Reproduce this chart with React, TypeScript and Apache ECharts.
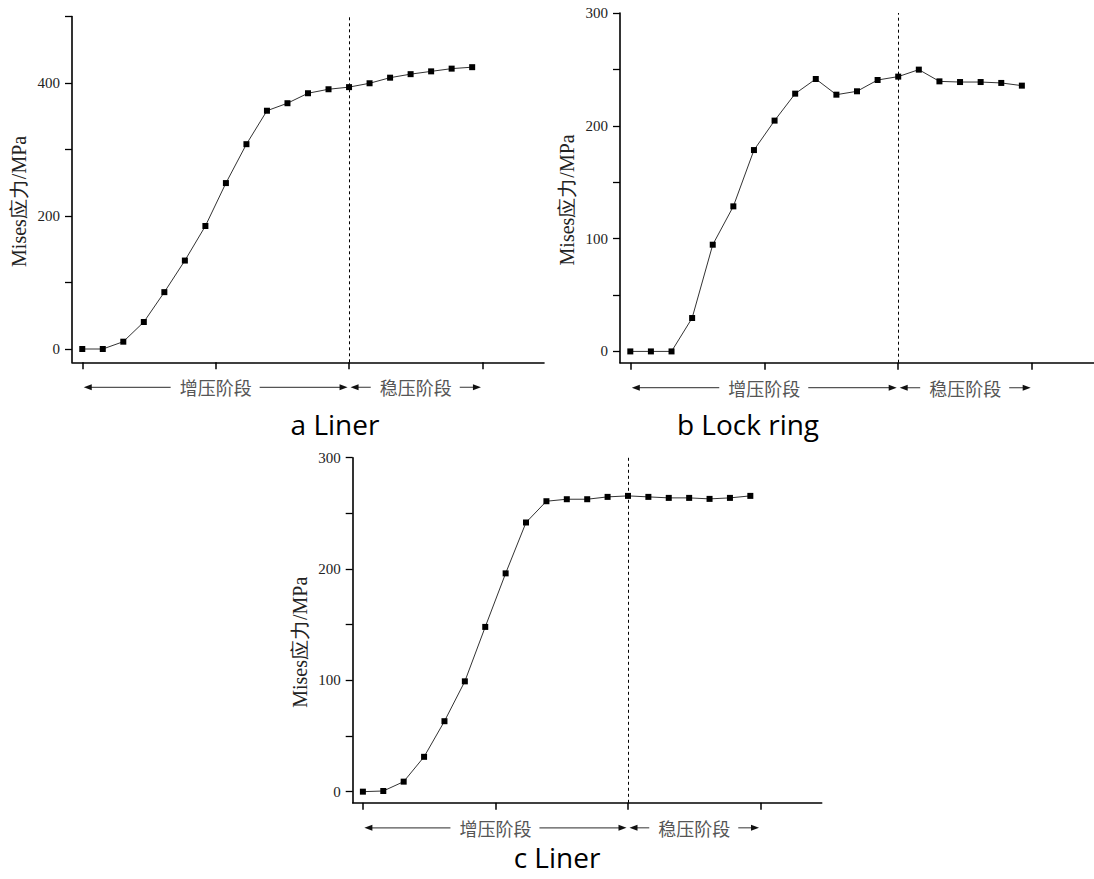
import React, { useEffect, useRef } from "react";
import * as echarts from "echarts";

// ---- data ----
const stepIndex = [0, 1, 2, 3, 4, 5, 6, 7, 8, 9, 10, 11, 12, 13, 14, 15, 16, 17, 18, 19];
const linerA = [0, 0, 11, 40.6, 85.5, 133, 185, 249.5, 308, 358.3, 369.6, 384.6, 390.6, 393.8, 399.6, 408, 413.3, 417.5, 421.6, 423.8];
const lockRingB = [0, 0, 0, 29.6, 94.6, 128.6, 178.5, 204.6, 228.5, 241.5, 227.6, 230.6, 240.6, 243.6, 249.8, 239.4, 238.8, 238.8, 238, 235.6];
const linerC = [0, 0.6, 9, 31.3, 63.3, 99.1, 148, 196.1, 241.8, 260.9, 262.7, 262.7, 264.8, 265.7, 264.8, 263.9, 263.9, 263, 263.9, 265.7];

const stageBoundary = 13;
const stageStart = 0;
const stageEnd = 19.5;
const xTickValues = [0, 6.5, 13, 19.5];
const yTicksA = [0, 100, 200, 300, 400, 500];
const yLabelsA = [0, 200, 400];
const yTicksBC = [0, 50, 100, 150, 200, 250, 300];
const yLabelsBC = [0, 100, 200, 300];
const yAxisName = "Mises应力/MPa";
const stageLabels = ["增压阶段", "稳压阶段"];
const captions = ["a Liner", "b Lock ring", "c Liner"];

const SERIF = "'Liberation Serif','Times New Roman',serif";
const CJK = "'Noto Sans CJK SC',sans-serif";
const CAPTION_FONT = "'Open Sans',sans-serif";

const panels = [
  { data: linerA, yMin: -20, yMax: 500, ticks: yTicksA, labels: yLabelsA,
    grid: { left: 72, top: 16.5, width: 472, height: 345.8 }, caption: captions[0], capPos: [335, 424] },
  { data: lockRingB, yMin: -10, yMax: 300, ticks: yTicksBC, labels: yLabelsBC,
    grid: { left: 620, top: 13, width: 479, height: 349.7 }, caption: captions[1], capPos: [748, 424] },
  { data: linerC, yMin: -10, yMax: 300, ticks: yTicksBC, labels: yLabelsBC,
    grid: { left: 352.7, top: 457.7, width: 469, height: 345.1 }, caption: captions[2], capPos: [557, 857] },
];

export default function App() {
  const ref = useRef<HTMLDivElement>(null);
  useEffect(() => {
    if (!ref.current) return;
    const chart = echarts.init(ref.current, undefined, { renderer: "svg" });
    const option: any = {
      animation: false,
      backgroundColor: "#fff",
      grid: panels.map((p) => ({ ...p.grid, containLabel: false })),
      xAxis: panels.map((p, i) => ({
        type: "value",
        gridIndex: i,
        min: -0.5,
        max: 22.5,
        axisLine: { show: true, onZero: false, lineStyle: { color: "#000", width: 1.6 } },
        axisTick: { show: true, customValues: xTickValues, length: 7, lineStyle: { color: "#000", width: 1.5 } },
        axisLabel: { show: false },
        splitLine: { show: false },
      })),
      yAxis: panels.map((p, i) => ({
        type: "value",
        gridIndex: i,
        min: p.yMin,
        max: p.yMax,
        axisLine: { show: true, onZero: false, lineStyle: { color: "#000", width: 1.6 } },
        axisTick: { show: true, customValues: p.ticks, length: 7, lineStyle: { color: "#000", width: 1.3 } },
        axisLabel: { show: true, customValues: p.labels, margin: 12, color: "#222", fontFamily: SERIF, fontSize: 15 },
        splitLine: { show: false },
      })),
      series: panels.map((p, i) => ({
        type: "line",
        xAxisIndex: i,
        yAxisIndex: i,
        data: stepIndex.map((x, k) => [x, p.data[k]]),
        symbol: "rect",
        symbolSize: 6,
        lineStyle: { color: "#333", width: 1 },
        itemStyle: { color: "#000" },
        markLine: {
          silent: true,
          symbol: ["none", "none"],
          label: { show: false },
          lineStyle: { color: "#000", width: 1, type: [3, 3] },
          data: [{ xAxis: stageBoundary }],
        },
      })),
    };
    chart.setOption(option);

    const graphics: any[] = [];
    panels.forEach((p, i) => {
      const px = (v: number) => chart.convertToPixel({ xAxisIndex: i } as any, v) as number;
      const yAxisPix = chart.convertToPixel({ yAxisIndex: i } as any, p.yMin) as number;
      const yTopPix = chart.convertToPixel({ yAxisIndex: i } as any, p.yMax) as number;
      const xLeftPix = px(-0.5);
      // y axis name
      graphics.push({
        type: "text",
        x: xLeftPix - 53,
        y: (yAxisPix + yTopPix) / 2 + 12,
        rotation: Math.PI / 2,
        style: { text: yAxisName, font: `20px ${SERIF}`, fill: "#222", align: "center", verticalAlign: "middle" },
      });
      // stage annotations
      const ay = yAxisPix + 25;
      const segs = [
        [stageStart, stageBoundary, stageLabels[0]],
        [stageBoundary, stageEnd, stageLabels[1]],
      ] as [number, number, string][];
      segs.forEach(([a, b, label]) => {
        const x0 = px(a) + 1.5;
        const x1 = px(b) - 1.5;
        const cx = (px(a) + px(b)) / 2;
        const fs = 18;
        const half = label.length * fs / 2;
        graphics.push({ type: "line", shape: { x1: x0 + 4, y1: ay, x2: cx - half - 9, y2: ay }, style: { stroke: "#555", lineWidth: 1.2 } });
        graphics.push({ type: "line", shape: { x1: cx + half + 8, y1: ay, x2: x1 - 4, y2: ay }, style: { stroke: "#555", lineWidth: 1.2 } });
        graphics.push({ type: "polygon", shape: { points: [[x0, ay], [x0 + 8, ay - 3], [x0 + 8, ay + 3]] }, style: { fill: "#111" } });
        graphics.push({ type: "polygon", shape: { points: [[x1, ay], [x1 - 8, ay - 3], [x1 - 8, ay + 3]] }, style: { fill: "#111" } });
        graphics.push({
          type: "text", x: cx, y: ay,
          style: { text: label, font: `${fs}px ${CJK}`, fill: "#555", align: "center", verticalAlign: "middle" },
        });
      });
      // caption
      graphics.push({
        type: "text", x: p.capPos[0], y: p.capPos[1],
        style: { text: p.caption, font: `28px ${CAPTION_FONT}`, lineHeight: 28, fill: "#000", align: "center", verticalAlign: "middle" },
      });
    });
    chart.setOption({ graphic: graphics });

    return () => chart.dispose();
  }, []);
  return <div ref={ref} style={{ position: "fixed", left: 0, top: 0, width: 1094, height: 879, background: "#fff" }} />;
}
